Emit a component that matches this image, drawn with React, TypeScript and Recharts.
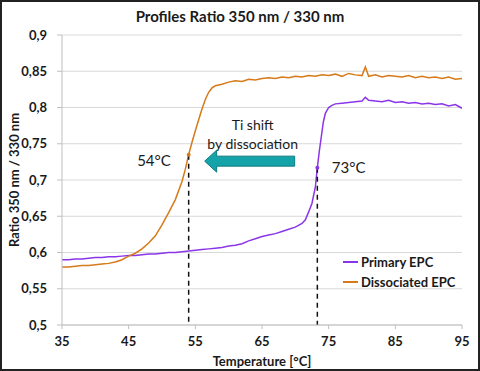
import React from 'react';
import {
  LineChart, Line, XAxis, YAxis, CartesianGrid, Legend, Label,
  ReferenceLine, ReferenceDot,
} from 'recharts';

// temperatures [°C] and ratio 350/330
const primaryTemp = [
  35, 36, 37, 38, 39, 40, 41, 42, 43, 44, 45, 46, 47, 48, 49, 50, 51, 52, 53, 54,
  55, 56, 57, 58, 59, 60, 61, 62, 63, 64, 65, 66, 67, 68, 69, 70, 71, 71.5, 72, 72.5,
  73, 73.3, 73.6, 73.9, 74.2, 74.5, 75, 75.5, 76, 77, 78, 79, 80, 80.5, 81, 82, 83, 84,
  85, 86, 87, 88, 89, 90, 91, 92, 93, 94, 95,
];
const primaryRatio = [
  0.590, 0.590, 0.591, 0.591, 0.592, 0.593, 0.593, 0.594, 0.594, 0.595, 0.596, 0.596, 0.597, 0.598, 0.598, 0.599, 0.600, 0.600, 0.601, 0.602,
  0.603, 0.604, 0.605, 0.606, 0.607, 0.609, 0.610, 0.612, 0.616, 0.619, 0.622, 0.624, 0.626, 0.629, 0.632, 0.635, 0.640, 0.645, 0.656, 0.668,
  0.690, 0.717, 0.740, 0.760, 0.780, 0.792, 0.800, 0.803, 0.805, 0.806, 0.807, 0.808, 0.809, 0.814, 0.810, 0.809, 0.808, 0.810,
  0.807, 0.808, 0.806, 0.807, 0.805, 0.806, 0.804, 0.805, 0.802, 0.804, 0.799,
];

const dissocTemp = [
  35, 36, 37, 38, 39, 40, 41, 42, 43, 44, 45, 46, 47, 48, 49, 50, 51, 52, 53, 53.5,
  54, 54.5, 55, 55.5, 56, 56.5, 57, 57.5, 58, 59, 60, 61, 62, 63, 64, 65, 66, 67, 68, 69,
  70, 71, 72, 73, 74, 75, 76, 77, 78, 79, 80, 80.5, 81, 82, 83, 84, 85, 86, 87, 88,
  89, 90, 91, 92, 93, 94, 95,
];
const dissocRatio = [
  0.580, 0.580, 0.581, 0.582, 0.582, 0.583, 0.584, 0.585, 0.587, 0.590, 0.595, 0.599, 0.605, 0.613, 0.623, 0.638, 0.655, 0.673, 0.698, 0.715,
  0.735, 0.752, 0.768, 0.783, 0.798, 0.811, 0.821, 0.827, 0.830, 0.832, 0.835, 0.837, 0.836, 0.839, 0.838, 0.840, 0.841, 0.840, 0.842, 0.841,
  0.843, 0.842, 0.844, 0.843, 0.845, 0.844, 0.846, 0.843, 0.847, 0.845, 0.844, 0.856, 0.843, 0.845, 0.842, 0.844, 0.843, 0.842, 0.844, 0.841,
  0.843, 0.841, 0.842, 0.840, 0.842, 0.839, 0.840,
];

const xTicks = [35, 45, 55, 65, 75, 85, 95];
const yTicks = [0.5, 0.55, 0.6, 0.65, 0.7, 0.75, 0.8, 0.85, 0.9];

// transition midpoints (Ti)
const tiDissoc = { t: 54, r: 0.735, label: '54°C', lt: 48.8, lr: 0.727 };
const tiPrimary = { t: 73.3, r: 0.717, label: '73°C', lt: 78, lr: 0.718 };

const PURPLE = '#8b35e8';
const ORANGE = '#d67a1a';
const TEAL = '#14a3a9';
const FONT = 'Lato, "Open Sans", sans-serif';

const primaryData = primaryTemp.map((t, i) => ({ t, r: primaryRatio[i] }));
const dissocData = dissocTemp.map((t, i) => ({ t, r: dissocRatio[i] }));

const fmt = (v: number) => String(v).replace('.', ',');

const ArrowShape = (props: any) => {
  const { x1, y1, x2, y2 } = props;
  // x1 = tail (right), x2 = tip (left)
  const body = 5;
  const head = 11;
  const headLen = 12;
  const yc = (y1 + y2) / 2;
  const hx = x2 + headLen;
  const pts = [
    [x2, yc], [hx, yc - head], [hx, yc - body], [x1, yc - body],
    [x1, yc + body], [hx, yc + body], [hx, yc + head],
  ].map((p) => p.join(',')).join(' ');
  return <polygon points={pts} fill={TEAL} stroke="#0e7c81" strokeWidth={1} />;
};

const TextDot = (text: string, size = 15) => (props: any) => (
  <text x={props.cx} y={props.cy} textAnchor="middle" dominantBaseline="central"
    fontFamily={FONT} fontSize={size} fill="#1a1a1a">{text}</text>
);

const LegendContent = () => (
  <div style={{ fontFamily: FONT, fontSize: 13, fontWeight: 700, color: '#1a1a1a', lineHeight: '20px' }}>
    {[['Primary EPC', PURPLE], ['Dissociated EPC', ORANGE]].map(([name, c]) => (
      <div key={name} style={{ display: 'flex', alignItems: 'center' }}>
        <span style={{ display: 'inline-block', width: 15, height: 2, background: c, marginRight: 3 }} />
        {name}
      </div>
    ))}
  </div>
);

export default function App() {
  return (
    <div style={{ position: 'absolute', left: 0, top: 0, width: 480, height: 371, background: '#fff', fontFamily: FONT }}>
      <div style={{ position: 'absolute', left: 0, top: 7, width: 480, textAlign: 'center', fontSize: 15, fontWeight: 700, color: '#1a1a1a' }}>
        Profiles Ratio 350 nm / 330 nm
      </div>
      <LineChart width={480} height={371} margin={{ top: 35, right: 18, left: 0, bottom: 0 }}
        style={{ position: 'absolute', left: 0, top: 0 }}>
        <CartesianGrid vertical={false} stroke="#d9d9d9" />
        <XAxis dataKey="t" type="number" domain={[35, 95]} ticks={xTicks} height={46}
          stroke="#bfbfbf" tickSize={4} tickMargin={8} allowDataOverflow
          tick={{ fill: '#1a1a1a', fontSize: 13, fontWeight: 700, fontFamily: FONT }}>
          <Label value="Temperature [°C]" position="insideBottom" offset={5}
            style={{ fill: '#1a1a1a', fontSize: 13, fontWeight: 700, fontFamily: FONT }} />
        </XAxis>
        <YAxis type="number" domain={[0.5, 0.9]} ticks={yTicks} width={62} tickFormatter={fmt}
          stroke="#bfbfbf" tickSize={5} tickMargin={10} allowDataOverflow
          tick={{ fill: '#1a1a1a', fontSize: 13, fontWeight: 700, fontFamily: FONT }}>
          <Label content={(p: any) => {
            const vb = p.viewBox;
            const x = vb.x + 14;
            const y = vb.y + vb.height / 2;
            return (
              <text x={x} y={y} transform={`rotate(-90, ${x}, ${y})`} textAnchor="middle"
                dominantBaseline="central" fontFamily={FONT} fontSize={13} fontWeight={700} fill="#1a1a1a">
                Ratio 350 nm / 330 nm
              </text>
            );
          }} />
        </YAxis>
        <Legend layout="vertical" align="center" verticalAlign="middle" content={LegendContent}
          wrapperStyle={{ left: 343, top: 252, width: 130 }} />
        <Line data={primaryData} dataKey="r" name="Primary EPC" stroke={PURPLE} strokeWidth={1.5}
          dot={false} type="linear" isAnimationActive={false} />
        <Line data={dissocData} dataKey="r" name="Dissociated EPC" stroke={ORANGE} strokeWidth={1.5}
          dot={false} type="linear" isAnimationActive={false} />
        <ReferenceLine segment={[{ x: tiDissoc.t, y: tiDissoc.r }, { x: tiDissoc.t, y: 0.5 }]}
          stroke="#111" strokeWidth={1.5} strokeDasharray="5 4" ifOverflow="visible" />
        <ReferenceLine segment={[{ x: tiPrimary.t, y: tiPrimary.r }, { x: tiPrimary.t, y: 0.5 }]}
          stroke="#111" strokeWidth={1.5} strokeDasharray="5 4" ifOverflow="visible" />
        <ReferenceDot x={tiDissoc.t} y={tiDissoc.r} r={2} fill={ORANGE} stroke="none" />
        <ReferenceDot x={tiPrimary.t} y={tiPrimary.r} r={2} fill={PURPLE} stroke="none" />
        <ReferenceLine segment={[{ x: 69.9, y: 0.726 }, { x: 56.4, y: 0.726 }]} shape={ArrowShape} />
        <ReferenceDot x={tiDissoc.lt} y={tiDissoc.lr} r={0} shape={TextDot(tiDissoc.label)} />
        <ReferenceDot x={tiPrimary.lt} y={tiPrimary.lr} r={0} shape={TextDot(tiPrimary.label)} />
        <ReferenceDot x={63.6} y={0.776} r={0} shape={TextDot('Ti shift', 14)} />
        <ReferenceDot x={63.6} y={0.751} r={0} shape={TextDot('by dissociation', 14)} />
      </LineChart>
      <div style={{ position: 'absolute', left: 0, top: 0, width: 480, height: 371, boxSizing: 'border-box',
        border: '2px solid #222', pointerEvents: 'none' }} />
    </div>
  );
}
